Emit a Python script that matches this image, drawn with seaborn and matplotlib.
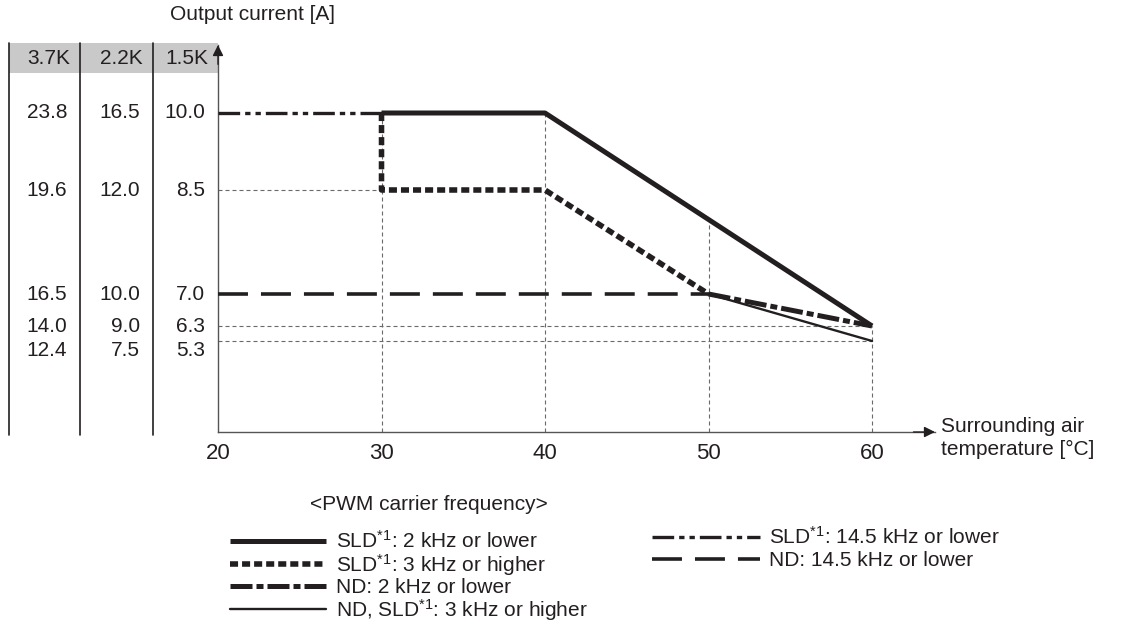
import numpy as np
import seaborn as sns
import matplotlib.pyplot as plt
from matplotlib.lines import Line2D
from matplotlib.patches import Rectangle
from matplotlib import transforms

# rated output current table (rows share the 1.5K levels)
capacities = ["3.7K", "2.2K", "1.5K"]
current_37k = [23.8, 19.6, 16.5, 14.0, 12.4]
current_22k = [16.5, 12.0, 10.0, 9.0, 7.5]
current_15k = [10.0, 8.5, 7.0, 6.3, 5.3]

temp_ticks = [20, 30, 40, 50, 60]

# derating curves: surrounding air temperature [C] vs 1.5K output current [A]
sld_2k_t = [30, 40, 60]
sld_2k_a = [10.0, 10.0, 6.3]
sld_3k_t = [30, 30, 40, 50]
sld_3k_a = [10.0, 8.5, 8.5, 7.0]
nd_2k_t = [50, 60]
nd_2k_a = [7.0, 6.3]
nd_sld_3k_t = [50, 60]
nd_sld_3k_a = [7.0, 5.3]
sld_14k_t = [20, 30]
sld_14k_a = [10.0, 10.0]
nd_14k_t = [20, 50]
nd_14k_a = [7.0, 7.0]

labels = [
    "SLD$^{*1}$: 2 kHz or lower",
    "SLD$^{*1}$: 3 kHz or higher",
    "ND: 2 kHz or lower",
    "ND, SLD$^{*1}$: 3 kHz or higher",
    "SLD$^{*1}$: 14.5 kHz or lower",
    "ND: 14.5 kHz or lower",
]

W, H = 1131, 624
INK = "#231f20"
FS = 15

sns.set_theme(style="white")
plt.rcParams["font.family"] = ["Liberation Sans", "DejaVu Sans"]
plt.rcParams["mathtext.fontset"] = "custom"
plt.rcParams["mathtext.rm"] = "Liberation Sans"
plt.rcParams["mathtext.it"] = "Liberation Sans"
plt.rcParams["text.color"] = INK


def fx(x):
    return x / W


def fy(y):
    return 1 - y / H


# the current axis is schematic, not linear
y_vals = [0, 5.3, 6.3, 7.0, 8.5, 10.0, 11.5]
y_pos = [0, 91, 106, 138, 242, 319, 387]


def fwd(v):
    return np.interp(v, y_vals, y_pos)


def inv(p):
    return np.interp(p, y_pos, y_vals)


fig = plt.figure(figsize=(W / 100, H / 100), dpi=100)
ax = fig.add_axes([fx(218), fy(432), 717 / W, 387 / H])
ax.patch.set_alpha(0)
ax.set_yscale("function", functions=(fwd, inv))
ax.set_xlim(20, 63.85)
ax.set_ylim(0, 11.5)

# thin dashed guide lines
guide = dict(colors="#6a6a6a", linewidth=0.8, linestyles=(0, (3.6, 2.7)), zorder=1)
y50 = float(inv((fwd(sld_2k_a[1]) + fwd(sld_2k_a[2])) / 2))
ax.vlines([30, 40], 0, current_15k[0], **guide)
ax.vlines(50, 0, y50, **guide)
ax.vlines(60, 0, current_15k[3], **guide)
ax.hlines(current_15k[1], 20, 30, **guide)
ax.hlines(current_15k[3:], 20, 60, **guide)

series = [
    (sld_2k_t, sld_2k_a, dict(linewidth=3.6, linestyle="-", solid_capstyle="butt"), 5),
    (sld_3k_t, sld_3k_a, dict(linewidth=4.0, linestyle=(0, (1.45, 0.72))), 4),
    (nd_2k_t, nd_2k_a, dict(linewidth=3.6, linestyle=(0, (4.4, 0.8, 1.4, 0.8))), 4),
    (nd_sld_3k_t, nd_sld_3k_a, dict(linewidth=1.7, linestyle="-"), 3),
    (sld_14k_t, sld_14k_a, dict(linewidth=2.4, linestyle=(0, (6.5, 1.5, 1.6, 1.5, 1.6, 1.5))), 3),
    (nd_14k_t, nd_14k_a, dict(linewidth=2.6, linestyle=(0, (8.3, 3.6))), 3),
]
handles = []
for (t, a, style, z), lab in zip(series, labels):
    sns.lineplot(x=t, y=a, ax=ax, sort=False, estimator=None, color=INK, zorder=z, **style)
    line = ax.lines[-1]
    line.set_label(lab)
    handles.append(line)

ax.set_xticks(temp_ticks)
ax.set_xticklabels([str(t) for t in temp_ticks])
ax.set_yticks([])
ax.tick_params(axis="x", length=0, pad=8, labelsize=FS + 1, labelcolor=INK)
for s in ["top", "right"]:
    ax.spines[s].set_visible(False)
for s in ["left", "bottom"]:
    ax.spines[s].set_color("#555555")
    ax.spines[s].set_linewidth(1.0)
ax.set_xlabel("")
ax.set_ylabel("")

arrow = dict(arrowstyle="-|>", color=INK, lw=1.0, mutation_scale=16, shrinkA=0, shrinkB=0)
ax.annotate("", xy=(0, 1), xycoords="axes fraction", xytext=(0, 0.95), arrowprops=arrow)
ax.annotate("", xy=(1, 0), xycoords="axes fraction", xytext=(0.97, 0), arrowprops=arrow)

# table on the left of the axis
fig.add_artist(Rectangle((fx(9), fy(73)), fx(218) - fx(9), fy(43) - fy(73),
                         transform=fig.transFigure, facecolor="#c9c9c9", edgecolor="none", zorder=0))
for xl in [9, 80, 153]:
    fig.add_artist(Line2D([fx(xl), fx(xl)], [fy(43), fy(435)], transform=fig.transFigure,
                          color=INK, linewidth=1.2))

head_right = [70, 143, 208]
col_right = [67, 140, 205]
row_offsets = [0, 0, 0, 0, -10]
blend = transforms.blended_transform_factory(fig.transFigure, ax.transData)
for xh, xr, cap, vals in zip(head_right, col_right, capacities,
                             [current_37k, current_22k, current_15k]):
    fig.text(fx(xh), fy(58), cap, ha="right", va="center", fontsize=FS)
    for v, row, off in zip(vals, current_15k, row_offsets):
        ax.annotate(f"{v:.1f}", xy=(fx(xr), row), xycoords=blend, xytext=(0, off),
                    textcoords="offset pixels", ha="right", va="center", fontsize=FS,
                    annotation_clip=False)

fig.text(fx(170), fy(15), "Output current [A]", ha="left", va="center", fontsize=FS)
fig.text(fx(941), fy(438), "Surrounding air\ntemperature [°C]", ha="left", va="center",
         fontsize=FS, linespacing=1.3)
fig.text(fx(310), fy(505), "<PWM carrier frequency>", ha="left", va="center", fontsize=FS)

leg1 = ax.legend(handles=handles[:4], loc="upper left",
                 bbox_to_anchor=(fx(230), fy(530)), bbox_transform=fig.transFigure,
                 frameon=False, fontsize=FS, handlelength=4.6,
                 handletextpad=0.5, labelspacing=0.0, borderpad=0, borderaxespad=0)
ax.add_artist(leg1)
ax.legend(handles=handles[4:], loc="upper left", bbox_to_anchor=(fx(652), fy(526)),
          bbox_transform=fig.transFigure, frameon=False, fontsize=FS, handlelength=5.2,
          handletextpad=0.4, labelspacing=0.15, borderpad=0, borderaxespad=0)

fig.savefig("out.png", dpi=100)
